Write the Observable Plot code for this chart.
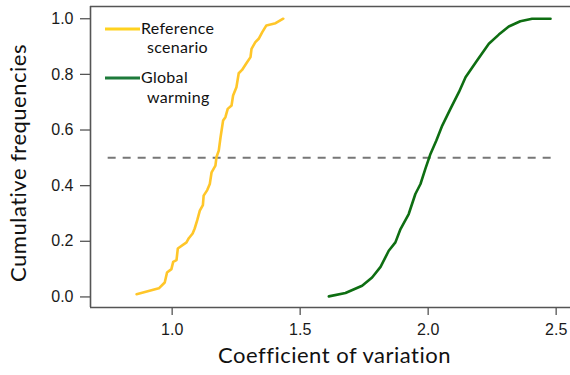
<!DOCTYPE html>
<html>
<head>
<meta charset="utf-8">
<script src="https://cdn.jsdelivr.net/npm/d3@7"></script>
<script src="https://cdn.jsdelivr.net/npm/@observablehq/plot@0.6"></script>
<style>
  html, body { margin: 0; padding: 0; background: #fff; overflow: hidden; }
  #chart { position: relative; width: 570px; height: 375px; }
</style>
</head>
<body>
<div id="chart"></div>
<script>
// Reference scenario: empirical cumulative distribution of coefficient of variation
const refCV = [0.861,0.948,0.971,0.980,0.997,1.004,1.017,1.022,1.056,1.065,1.080,1.088,1.098,1.108,1.120,1.123,1.137,1.147,1.154,1.169,1.173,1.182,1.189,1.199,1.208,1.217,1.232,1.238,1.251,1.260,1.273,1.290,1.306,1.310,1.325,1.338,1.352,1.368,1.404,1.434];
const refF  = [0.010,0.031,0.052,0.088,0.100,0.126,0.132,0.174,0.196,0.211,0.228,0.246,0.276,0.310,0.330,0.364,0.384,0.406,0.448,0.472,0.502,0.526,0.574,0.634,0.646,0.676,0.688,0.724,0.754,0.804,0.816,0.840,0.862,0.892,0.916,0.928,0.952,0.976,0.984,1.000];

// Global warming scenario
const gwCV = [1.612,1.677,1.742,1.781,1.814,1.846,1.872,1.892,1.924,1.950,1.970,1.989,2.009,2.032,2.055,2.087,2.120,2.146,2.191,2.237,2.276,2.315,2.360,2.406,2.478];
const gwF  = [0.002,0.014,0.040,0.070,0.108,0.166,0.196,0.244,0.298,0.370,0.406,0.460,0.514,0.562,0.616,0.676,0.736,0.790,0.850,0.910,0.943,0.972,0.991,1.000,1.000];

// Median reference line
const medianLevel = [0.5];
const medianFrom = 0.75;
const medianTo = 2.5;

// Axes
const xTicks = [1.0, 1.5, 2.0, 2.5];
const yTicks = [0.0, 0.2, 0.4, 0.6, 0.8, 1.0];
const xDomain = [0.681, 2.556];
const yDomain = [-0.038, 1.044];
const xTitle = "Coefficient of variation";
const yTitle = "Cumulative frequencies";
const seriesNames = [["Reference", "scenario"], ["Global", "warming"]];
const seriesColors = ["#FFC629", "#0E6E12"];
const legendColors = ["#FFD21F", "#1D7A3A"];

const refData = refCV.map((v, i) => ({cv: v, f: refF[i]}));
const gwData = gwCV.map((v, i) => ({cv: v, f: gwF[i]}));

const titleFont = "Lato, 'Open Sans', sans-serif";
const tickFont = "'Liberation Sans', Arial, sans-serif";
const axisColor = "#555";

const plot = Plot.plot({
  width: 570,
  height: 375,
  marginLeft: 90,
  marginRight: 0,
  marginTop: 6,
  marginBottom: 68,
  style: {background: "#fff", fontFamily: tickFont, fontSize: "16px", overflow: "visible"},
  x: {domain: xDomain, label: null},
  y: {domain: yDomain, label: null},
  marks: [
    Plot.ruleX([xDomain[0]], {stroke: axisColor, strokeWidth: 1.6}),
    Plot.ruleY([yDomain[0], yDomain[1]], {stroke: axisColor, strokeWidth: 1.6}),
    Plot.axisY({ticks: yTicks, tickSize: 10, tickPadding: 7, tickFormat: d3.format(".1f"),
      stroke: axisColor, fill: "#1a1a1a", fontSize: 16, strokeWidth: 1.3}),
    Plot.axisX({ticks: xTicks, tickSize: 8, tickPadding: 8, tickFormat: d3.format(".1f"),
      stroke: axisColor, fill: "#1a1a1a", fontSize: 16, strokeWidth: 1.3}),
    Plot.ruleY(medianLevel, {x1: medianFrom, x2: medianTo, stroke: "#777", strokeWidth: 2, strokeDasharray: "8,7"}),
    Plot.line(refData, {x: "cv", y: "f", stroke: seriesColors[0], strokeWidth: 2.6}),
    Plot.line(gwData, {x: "cv", y: "f", stroke: seriesColors[1], strokeWidth: 2.6}),
    Plot.text([xTitle], {frameAnchor: "bottom", dx: 4, dy: 55, fontSize: 22, fontFamily: titleFont, fill: "#111"}),
    Plot.text([yTitle], {frameAnchor: "left", textAnchor: "middle", rotate: -90, dx: -72, dy: 6, fontSize: 22, fontFamily: titleFont, fill: "#111"})
  ]
});

// Legend inside the plot area (top-left)
const svg = d3.select(plot);
const lg = svg.append("g").attr("font-family", titleFont).attr("font-size", 16)
  .attr("fill", "#111").attr("text-anchor", "start").style("letter-spacing", "0.3px");
const rows = [{lineY: 29, y1: 28, y2: 47}, {lineY: 78, y1: 77, y2: 97}];
rows.forEach((r, i) => {
  lg.append("line").attr("x1", 105).attr("x2", 140).attr("y1", r.lineY).attr("y2", r.lineY)
    .attr("stroke", legendColors[i]).attr("stroke-width", 3.2);
  lg.append("text").attr("x", 141).attr("y", r.y1).attr("dy", "0.35em").attr("text-anchor", "start").text(seriesNames[i][0]);
  lg.append("text").attr("x", 147).attr("y", r.y2).attr("dy", "0.35em").attr("text-anchor", "start").text(seriesNames[i][1]);
});
svg.selectAll("text").filter(function() { return this.textContent === xTitle || this.textContent === yTitle; })
  .style("letter-spacing", "0.5px");

document.getElementById("chart").appendChild(plot);
</script>
</body>
</html>
